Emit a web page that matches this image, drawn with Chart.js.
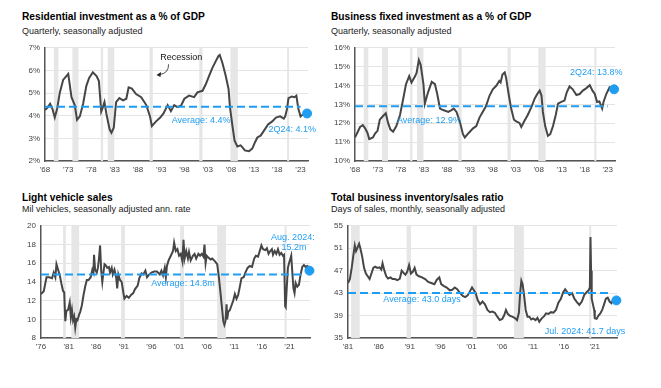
<!DOCTYPE html>
<html>
<head>
<meta charset="utf-8">
<script src="https://cdn.jsdelivr.net/npm/chart.js@4.4.1/dist/chart.umd.min.js"></script>
<style>
  body { margin:0; background:#fff; font-family:"Liberation Sans", Arial, sans-serif; }
  #wrap { position:relative; width:661px; height:388px; overflow:hidden; }
  .box { position:absolute; }
  .ttl { position:absolute; font-weight:bold; font-size:10.2px; color:#000; white-space:nowrap; }
  .sub { position:absolute; font-size:9px; color:#222; white-space:nowrap; }
</style>
</head>
<body>
<div id="wrap">
  <div class="ttl" style="left:22px;top:11px">Residential investment as a % of GDP</div>
  <div class="sub" style="left:22px;top:26px">Quarterly, seasonally adjusted</div>
  <div class="ttl" style="left:331px;top:11px">Business fixed investment as a % of GDP</div>
  <div class="sub" style="left:331px;top:26px">Quarterly, seasonally adjusted</div>
  <div class="ttl" style="left:22px;top:192px">Light vehicle sales</div>
  <div class="sub" style="left:22px;top:204px">Mil vehicles, seasonally adjusted ann. rate</div>
  <div class="ttl" style="left:331px;top:192px">Total business inventory/sales ratio</div>
  <div class="sub" style="left:331px;top:204px">Days of sales, monthly, seasonally adjusted</div>

  <div class="box" style="left:10px;top:38px"><canvas id="c1" width="312" height="140"></canvas></div>
  <div class="box" style="left:326px;top:38px"><canvas id="c2" width="302" height="140"></canvas></div>
  <div class="box" style="left:6px;top:216px"><canvas id="c3" width="316" height="140"></canvas></div>
  <div class="box" style="left:318px;top:216px"><canvas id="c4" width="314" height="140"></canvas></div>
</div>
<script>
// recessions (start / end, decimal years)
const recStart = [1969.9, 1973.9, 1980.0, 1981.5, 1990.5, 2001.2, 2007.9, 2020.1];
const recEnd   = [1970.9, 1975.2, 1980.5, 1982.9, 1991.2, 2001.9, 2009.5, 2020.3];

// residential investment % GDP
const resDates = [1968.0,1968.5,1969.1,1969.6,1970.1,1970.6,1971.2,1971.9,1972.6,1973.0,
  1973.7,1974.4,1974.9,1975.5,1976.2,1976.9,1977.5,1978.3,1979.1,1979.6,
  1980.1,1980.5,1980.8,1981.2,1981.9,1982.3,1982.8,1983.3,1984.0,1984.8,
  1985.5,1986.0,1986.7,1987.6,1988.7,1989.8,1990.6,1991.0,1991.9,1992.8,
  1993.5,1994.4,1995.1,1995.8,1996.5,1997.3,1998.0,1999.0,2000.1,2000.8,
  2001.9,2002.6,2003.3,2004.0,2004.7,2005.3,2005.6,2006.2,2006.9,2007.5,
  2007.8,2008.3,2008.8,2009.4,2010.1,2010.5,2011.0,2011.9,2012.6,2013.2,
  2013.7,2014.4,2015.1,2016.0,2016.9,2017.7,2018.6,2019.4,2019.7,2020.1,
  2020.4,2021.1,2021.7,2022.1,2022.5,2023.0,2023.4,2024.4];
const resValues = [4.25,4.35,4.53,4.3,3.92,4.3,5.03,5.58,5.75,5.85,
  4.82,4.47,3.82,3.97,4.53,5.32,5.67,5.92,5.75,5.53,
  4.18,4.4,4.6,4.1,3.4,3.25,3.47,4.6,4.78,4.68,
  4.75,5.25,5.2,4.96,4.82,4.47,3.97,3.54,3.75,3.92,
  4.1,4.47,4.2,4.47,4.38,4.45,4.75,4.89,4.82,5.03,
  5.1,5.39,5.75,6.1,6.39,6.63,6.68,6.32,5.75,5.18,
  4.39,3.61,2.9,2.64,2.69,2.6,2.47,2.43,2.55,2.83,
  3.04,3.12,3.33,3.61,3.75,3.92,3.97,3.87,3.97,4.32,
  4.78,4.85,4.82,4.89,4.33,3.97,4.04,4.1];
const resAverage = 4.4;
const resTicks = [1968,1973,1978,1983,1988,1993,1998,2003,2008,2013,2018,2023];

// business fixed investment % GDP
const bfiDates = [1968.0,1968.5,1969.1,1969.7,1970.2,1970.7,1971.1,1971.9,1972.4,1972.9,
  1973.4,1974.0,1974.7,1975.2,1975.7,1976.3,1977.0,1977.8,1978.5,1979.1,
  1979.8,1980.3,1981.1,1981.4,1981.9,1982.3,1982.9,1983.2,1983.9,1984.7,
  1985.4,1985.9,1986.5,1987.2,1988.3,1989.0,1989.5,1990.1,1990.8,1991.5,
  1991.9,1992.8,1993.7,1994.4,1995.1,1995.8,1996.5,1997.3,1998.0,1998.8,
  1999.4,1999.7,2000.1,2000.6,2000.9,2001.5,2002.0,2002.6,2003.1,2003.8,
  2004.2,2004.9,2005.6,2006.4,2007.1,2007.8,2008.2,2008.6,2008.9,2009.4,
  2010.0,2010.5,2011.1,2011.7,2012.2,2012.9,2013.6,2014.1,2014.7,2015.4,
  2016.2,2016.9,2017.6,2018.3,2019.1,2019.7,2020.2,2020.7,2021.2,2021.8,
  2022.1,2022.7,2023.4,2023.8,2024.4];
const bfiValues = [11.25,11.5,11.8,11.9,11.73,11.5,11.16,11.25,11.47,11.6,
  12.19,12.36,12.53,12.02,11.68,11.55,11.85,12.44,13.3,14.07,
  14.5,14.16,14.5,14.67,15.35,15.1,14.07,13.04,13.64,14.19,
  14.07,13.55,12.78,12.7,12.6,12.7,12.78,12.6,12.1,11.42,
  11.25,11.5,11.73,11.85,12.3,12.6,12.9,13.47,13.8,14.0,
  14.24,14.16,14.58,14.7,14.4,13.47,12.78,12.19,12.1,12.02,
  11.8,12.13,12.44,12.85,13.3,13.6,13.73,13.47,12.6,11.85,
  11.33,11.42,11.85,12.44,13.04,13.13,13.2,13.64,13.95,13.8,
  13.5,13.55,13.73,13.85,14.02,13.73,13.55,13.13,13.16,12.78,
  13.13,13.55,13.9,13.8,13.8];
const bfiAverage = 12.9;

// light vehicle sales, mil. units SAAR
const lvsDates = [1976.0,1976.5,1977.0,1977.5,1978.0,1978.3,1978.6,1978.8,1979.1,1979.4,
  1979.7,1980.0,1980.2,1980.4,1980.6,1980.9,1981.2,1981.4,1981.6,1981.8,
  1982.0,1982.2,1982.4,1982.6,1982.9,1983.1,1983.4,1983.7,1984.0,1984.3,
  1984.6,1985.0,1985.3,1985.5,1985.6,1985.8,1986.1,1986.3,1986.5,1986.7,
  1986.9,1987.1,1987.3,1987.5,1987.7,1988.0,1988.3,1988.5,1988.8,1989.0,
  1989.3,1989.6,1989.8,1990.0,1990.3,1990.6,1990.9,1991.1,1991.5,1991.9,
  1992.3,1992.7,1993.0,1993.5,1993.8,1994.2,1994.5,1994.9,1995.2,1995.6,
  1996.0,1996.5,1997.0,1997.5,1997.8,1998.1,1998.4,1998.6,1998.8,1999.1,
  1999.5,1999.9,2000.1,2000.4,2000.7,2001.0,2001.3,2001.6,2001.8,2002.0,
  2002.3,2002.6,2002.8,2003.1,2003.5,2003.8,2004.1,2004.5,2004.8,2005.1,
  2005.4,2005.6,2005.8,2006.0,2006.3,2006.7,2007.0,2007.5,2007.9,2008.2,
  2008.5,2008.8,2009.0,2009.2,2009.4,2009.6,2009.7,2009.9,2010.2,2010.5,
  2010.8,2011.1,2011.4,2011.7,2012.0,2012.3,2012.7,2013.0,2013.4,2013.8,
  2014.2,2014.6,2014.9,2015.3,2015.6,2015.9,2016.2,2016.6,2016.9,2017.2,
  2017.5,2017.8,2018.0,2018.3,2018.6,2018.9,2019.2,2019.5,2019.8,2020.0,
  2020.2,2020.3,2020.5,2020.7,2020.9,2021.1,2021.3,2021.5,2021.7,2021.9,
  2022.1,2022.4,2022.7,2023.0,2023.3,2023.6,2023.9,2024.2,2024.4,2024.6];
const lvsValues = [12.7,13.0,14.5,14.5,14.4,15.0,14.5,15.9,15.3,14.7,
  13.8,13.0,12.9,9.8,10.9,11.0,11.8,10.2,11.0,9.9,
  10.3,9.1,10.0,9.9,10.5,10.8,11.5,12.6,13.5,14.2,
  14.2,14.5,15.3,15.0,16.9,15.3,15.0,15.5,16.5,17.9,
  15.2,14.0,15.0,15.9,15.8,15.5,15.6,15.0,15.5,14.8,
  15.3,14.5,13.3,14.8,14.2,14.0,12.9,12.2,12.5,12.3,
  12.6,12.8,13.2,13.6,14.4,14.9,14.8,15.2,14.5,14.8,
  15.0,15.1,15.1,14.8,15.2,14.7,15.5,14.5,15.7,16.3,
  16.8,17.3,18.2,17.3,17.5,16.8,17.0,16.2,18.5,16.5,
  17.3,16.5,17.2,16.3,16.8,17.0,16.5,17.0,16.8,17.0,
  16.7,18.0,16.0,16.8,16.6,16.4,16.5,16.2,15.9,14.5,
  12.8,11.0,9.8,9.4,9.8,11.6,10.0,10.8,11.0,11.5,
  12.0,12.7,12.2,12.6,13.5,14.4,14.5,15.0,15.5,15.7,
  15.6,16.5,16.8,16.7,17.3,17.9,17.5,17.4,17.6,17.0,
  17.3,17.5,16.9,17.3,17.0,17.5,16.9,17.1,16.8,16.9,
  11.4,11.3,13.5,15.5,16.0,16.4,16.8,15.0,13.3,12.8,
  13.9,13.5,13.7,14.8,15.6,15.8,15.6,15.7,15.6,15.2];
const lvsAverage = 14.8;
const lvsTicks = [1976,1981,1986,1991,1996,2001,2006,2011,2016,2021];

// inventory / sales ratio, days
const invDates = [1981.0,1981.3,1981.6,1981.9,1982.1,1982.3,1982.5,1982.8,1983.0,1983.3,
  1983.6,1983.9,1984.2,1984.5,1984.8,1985.1,1985.4,1985.8,1986.1,1986.4,
  1986.6,1986.9,1987.2,1987.5,1987.9,1988.2,1988.6,1989.0,1989.4,1989.7,
  1990.0,1990.3,1990.6,1990.9,1991.2,1991.5,1991.8,1992.1,1992.5,1993.0,
  1993.5,1994.0,1994.5,1995.0,1995.4,1995.8,1996.1,1996.5,1997.0,1997.5,
  1997.9,1998.3,1998.7,1999.1,1999.6,2000.0,2000.4,2000.8,2001.1,2001.4,
  2001.7,2002.0,2002.4,2002.8,2003.2,2003.6,2004.0,2004.4,2004.8,2005.2,
  2005.6,2006.0,2006.3,2006.6,2006.9,2007.2,2007.6,2008.0,2008.4,2008.7,
  2008.9,2009.1,2009.3,2009.5,2009.8,2010.1,2010.4,2010.7,2011.0,2011.4,
  2011.7,2012.0,2012.4,2012.8,2013.1,2013.5,2013.9,2014.3,2014.7,2015.1,
  2015.5,2015.9,2016.2,2016.5,2016.9,2017.3,2017.7,2018.1,2018.5,2018.9,
  2019.3,2019.7,2020.0,2020.2,2020.3,2020.4,2020.5,2020.7,2020.9,2021.0,
  2021.3,2021.6,2021.9,2022.2,2022.5,2022.8,2023.1,2023.4,2023.7,2024.0,
  2024.3,2024.5];
const invValues = [44.8,45.5,47.5,50.0,51.5,50.5,51.0,51.8,51.0,49.5,
  47.5,46.5,46.0,45.5,46.5,47.5,47.7,47.5,47.6,47.2,
  48.3,47.0,46.0,45.6,45.8,45.5,45.5,45.3,45.6,47.0,
  46.6,46.3,46.8,48.0,46.5,46.8,47.5,46.3,46.0,45.8,
  45.5,45.0,44.8,44.6,45.4,45.8,44.6,44.3,44.0,43.5,
  43.6,44.0,43.7,43.1,42.5,42.3,42.6,43.4,44.0,43.5,
  43.0,41.8,41.0,41.5,41.0,40.0,39.6,39.7,39.5,38.8,
  38.2,38.4,39.0,40.0,39.3,39.0,38.8,38.6,38.2,39.5,
  43.0,45.2,44.6,43.0,40.0,38.8,38.8,38.3,38.5,38.2,
  38.6,37.9,38.5,38.9,39.4,39.3,39.6,39.5,40.0,41.3,
  42.0,43.2,43.7,43.2,42.7,43.0,42.0,41.4,40.9,41.5,
  42.7,43.2,43.5,44.0,53.0,47.0,42.0,41.0,40.0,38.5,
  38.4,39.0,39.4,40.0,41.0,42.0,42.2,41.5,41.2,41.8,
  41.6,41.7];
const invAverage = 43.0;
const invTicks = [1981,1986,1991,1996,2001,2006,2011,2016,2021];

const LINE = '#464646';
const BLUE = '#1e9df1';
const GRID = '#e4e4e4';
const RECESS = '#e6e6e6';
const FONT = '"Liberation Sans", Arial, sans-serif';

function pts(xs, ys) { return xs.map((x, i) => ({ x: x, y: ys[i] })); }

const recessionPlugin = {
  id: 'recessions',
  beforeDatasetsDraw(chart) {
    const { ctx, chartArea: a, scales: { x } } = chart;
    ctx.save();
    ctx.beginPath();
    ctx.rect(a.left, a.top, a.right - a.left, a.bottom - a.top);
    ctx.clip();
    ctx.fillStyle = RECESS;
    recStart.forEach((s, i) => {
      const x0 = x.getPixelForValue(s), x1 = x.getPixelForValue(recEnd[i]);
      ctx.fillRect(x0, a.top, Math.max(x1 - x0, 2), a.bottom - a.top);
    });
    ctx.restore();
  }
};

const notesPlugin = {
  id: 'notes',
  afterDraw(chart, args, opts) {
    const { ctx, scales: { x, y } } = chart;
    ctx.save();
    (opts.items || []).forEach(n => {
      ctx.font = (n.weight || 'normal') + ' ' + (n.size || 9) + 'px ' + FONT;
      ctx.fillStyle = n.color || BLUE;
      ctx.textAlign = n.align || 'center';
      ctx.textBaseline = 'middle';
      ctx.fillText(n.text, x.getPixelForValue(n.x), y.getPixelForValue(n.y));
    });
    if (opts.arrow) {
      const a = opts.arrow;
      const x0 = x.getPixelForValue(a.from[0]), y0 = y.getPixelForValue(a.from[1]);
      const x1 = x.getPixelForValue(a.to[0]), y1 = y.getPixelForValue(a.to[1]);
      ctx.strokeStyle = '#222';
      ctx.lineWidth = 0.8;
      ctx.beginPath();
      ctx.moveTo(x0, y0);
      ctx.quadraticCurveTo(x0, y1 - 1, x1 + 3, y1);
      ctx.stroke();
      ctx.fillStyle = '#222';
      ctx.beginPath();
      ctx.moveTo(x1, y1 + 0.5);
      ctx.lineTo(x1 + 4.5, y1 - 2.5);
      ctx.lineTo(x1 + 4, y1 + 2.5);
      ctx.closePath();
      ctx.fill();
    }
    ctx.restore();
  }
};

function makeChart(id, o) {
  new Chart(document.getElementById(id), {
    type: 'line',
    data: {
      datasets: [
        { data: pts(o.dates, o.values), borderColor: LINE, borderWidth: 2, pointRadius: 0, tension: 0, order: 2 },
        { data: [{ x: o.dates[0], y: o.avg }, { x: o.avgEnd, y: o.avg }], borderColor: BLUE, borderWidth: 2,
          borderDash: [8, 4], pointRadius: 0, order: 1 },
        { data: [{ x: o.dates[o.dates.length - 1], y: o.values[o.values.length - 1] }], borderColor: BLUE,
          backgroundColor: BLUE, pointRadius: 4.5, showLine: false, clip: false, order: 0 }
      ]
    },
    options: {
      responsive: false,
      animation: false,
      layout: { padding: { top: 6, right: o.padRight, left: 0, bottom: 0 } },
      plugins: { legend: { display: false }, tooltip: { enabled: false },
        notes: { items: o.notes, arrow: o.arrow } },
      scales: {
        x: {
          type: 'linear', min: o.xmin, max: o.xmax,
          afterBuildTicks: s => { s.ticks = o.ticks.map(v => ({ value: v })); },
          afterFit: s => { s.height = o.xh; },
          grid: { display: false, drawTicks: true, tickLength: 3, tickColor: '#666' },
          border: { color: '#555', width: 1.5 },
          ticks: { color: '#444', font: { family: FONT, size: 8 }, padding: 1, maxRotation: 0, autoSkip: false,
            callback: v => "'" + String(v).slice(2) }
        },
        y: {
          min: o.ymin, max: o.ymax,
          ticks: { stepSize: o.step, color: '#444', font: { family: FONT, size: 8 }, padding: 5,
            callback: v => v + (o.suffix || '') },
          afterFit: s => { s.width = o.yw; },
          grid: { color: GRID, lineWidth: 1, drawTicks: false },
          border: { color: '#555', width: 1.5 }
        }
      }
    },
    plugins: [recessionPlugin, notesPlugin]
  });
}

makeChart('c1', {
  dates: resDates, values: resValues, avg: resAverage, avgEnd: 2023.0, ticks: resTicks,
  xmin: 1968, xmax: 2024.6, ymin: 2, ymax: 7, step: 1, suffix: '%', yw: 35, xh: 17, padRight: 14,
  notes: [
    { text: 'Recession', x: 1997.3, y: 6.57, color: '#111' },
    { text: 'Average: 4.4%', x: 2001.6, y: 3.79 },
    { text: '2Q24: 4.1%', x: 2021.2, y: 3.37 }
  ],
  arrow: { from: [1994.6, 6.27], to: [1992.0, 5.82] }
});

makeChart('c2', {
  dates: bfiDates, values: bfiValues, avg: bfiAverage, avgEnd: 2023.0, ticks: resTicks,
  xmin: 1968, xmax: 2024.6, ymin: 10, ymax: 16, step: 1, suffix: '%', yw: 29, xh: 17, padRight: 13,
  notes: [
    { text: 'Average: 12.9%', x: 1984.1, y: 12.15 },
    { text: '2Q24: 13.8%', x: 2020.5, y: 14.67 }
  ]
});

makeChart('c3', {
  dates: lvsDates, values: lvsValues, avg: lvsAverage, avgEnd: 2023.4, ticks: lvsTicks,
  xmin: 1976, xmax: 2024.7, ymin: 8, ymax: 20, step: 2, yw: 35, xh: 18, padRight: 12,
  notes: [
    { text: 'Aug. 2024:', x: 2021.6, y: 18.76 },
    { text: '15.2m', x: 2021.8, y: 17.72 },
    { text: 'Average: 14.8m', x: 2001.7, y: 13.79 }
  ]
});

makeChart('c4', {
  dates: invDates, values: invValues, avg: invAverage, avgEnd: 2023.5, ticks: invTicks,
  xmin: 1981, xmax: 2024.6, ymin: 35, ymax: 55, step: 2, yw: 30, xh: 18, padRight: 15,
  notes: [
    { text: 'Average: 43.0 days', x: 1993.0, y: 41.9 },
    { text: 'Jul. 2024: 41.7 days', x: 2019.4, y: 36.2 }
  ]
});
</script>
</body>
</html>
